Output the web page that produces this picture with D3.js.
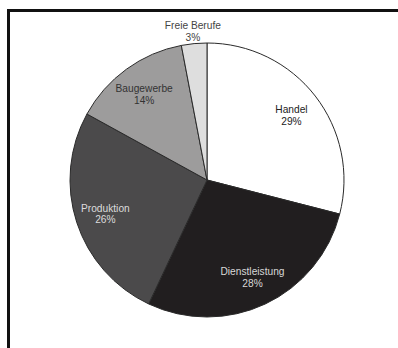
<!DOCTYPE html>
<html lang="de">
  <head>
    <meta charset="utf-8">
    <title>Branchen</title>
    <script src="https://d3js.org/d3.v7.min.js"></script>
    <style>
      body { margin: 0; background: #fff; }
    </style>
  </head>
  <body>
    <div id="chart"></div>
    <script type="text/javascript">
      const categories = ["Handel", "Dienstleistung", "Produktion", "Baugewerbe", "Freie Berufe"];
      const shares = [29, 28, 26, 14, 3];
      const fills = ["#ffffff", "#211e1f", "#4b4a4b", "#9d9c9c", "#dedede"];
      const labelColors = ["#222", "#d8d8d8", "#dcdcdc", "#333", "#444"];

      function drawPie() {
          let svgWidth = 398,
              svgHeight = 348;
          let cx = 207, cy = 180, radius = 137;

          let svg = d3.select("#chart")
              .append("svg")
              .attr("width", svgWidth)
              .attr("height", svgHeight);

          // frame (right and bottom edges run off the scan)
          svg.append("path")
              .attr("d", "M8.5," + svgHeight + "V10.5H" + svgWidth)
              .attr("fill", "none")
              .attr("stroke", "#111")
              .attr("stroke-width", 3);

          let data = categories.map((c, i) => ({name: c, value: shares[i], i: i}));

          let pie = d3.pie()
              .sort(null)
              .value(d => d.value);

          let arc = d3.arc()
              .innerRadius(0)
              .outerRadius(radius);

          let labelArc = d3.arc()
              .innerRadius(radius * 0.78)
              .outerRadius(radius * 0.78);

          let outerArc = d3.arc()
              .innerRadius(radius + 13)
              .outerRadius(radius + 13);

          let g = svg.append("g")
              .attr("transform", "translate(" + cx + "," + cy + ")");

          let arcs = pie(data);

          g.selectAll("path.slice")
              .data(arcs)
              .join("path")
              .attr("class", "slice")
              .attr("d", arc)
              .attr("fill", d => fills[d.data.i])
              .attr("stroke", "#2a2a2a")
              .attr("stroke-width", 1);

          let labels = g.selectAll("text.lbl")
              .data(arcs)
              .join("text")
              .attr("class", "lbl")
              .attr("transform", d => {
                  let p = d.data.value < 5 ? outerArc.centroid(d) : labelArc.centroid(d);
                  return "translate(" + p[0] + "," + p[1] + ")";
              })
              .attr("text-anchor", "middle")
              .attr("font-family", "Liberation Sans, Arial, sans-serif")
              .attr("font-size", 10.2)
              .attr("fill", d => labelColors[d.data.i]);

          labels.append("tspan")
              .attr("x", 0)
              .attr("dy", "-0.15em")
              .text(d => d.data.name);

          labels.append("tspan")
              .attr("x", 0)
              .attr("dy", "1.15em")
              .text(d => d.data.value + "%");
      }

      drawPie();
    </script>
  </body>
</html>
